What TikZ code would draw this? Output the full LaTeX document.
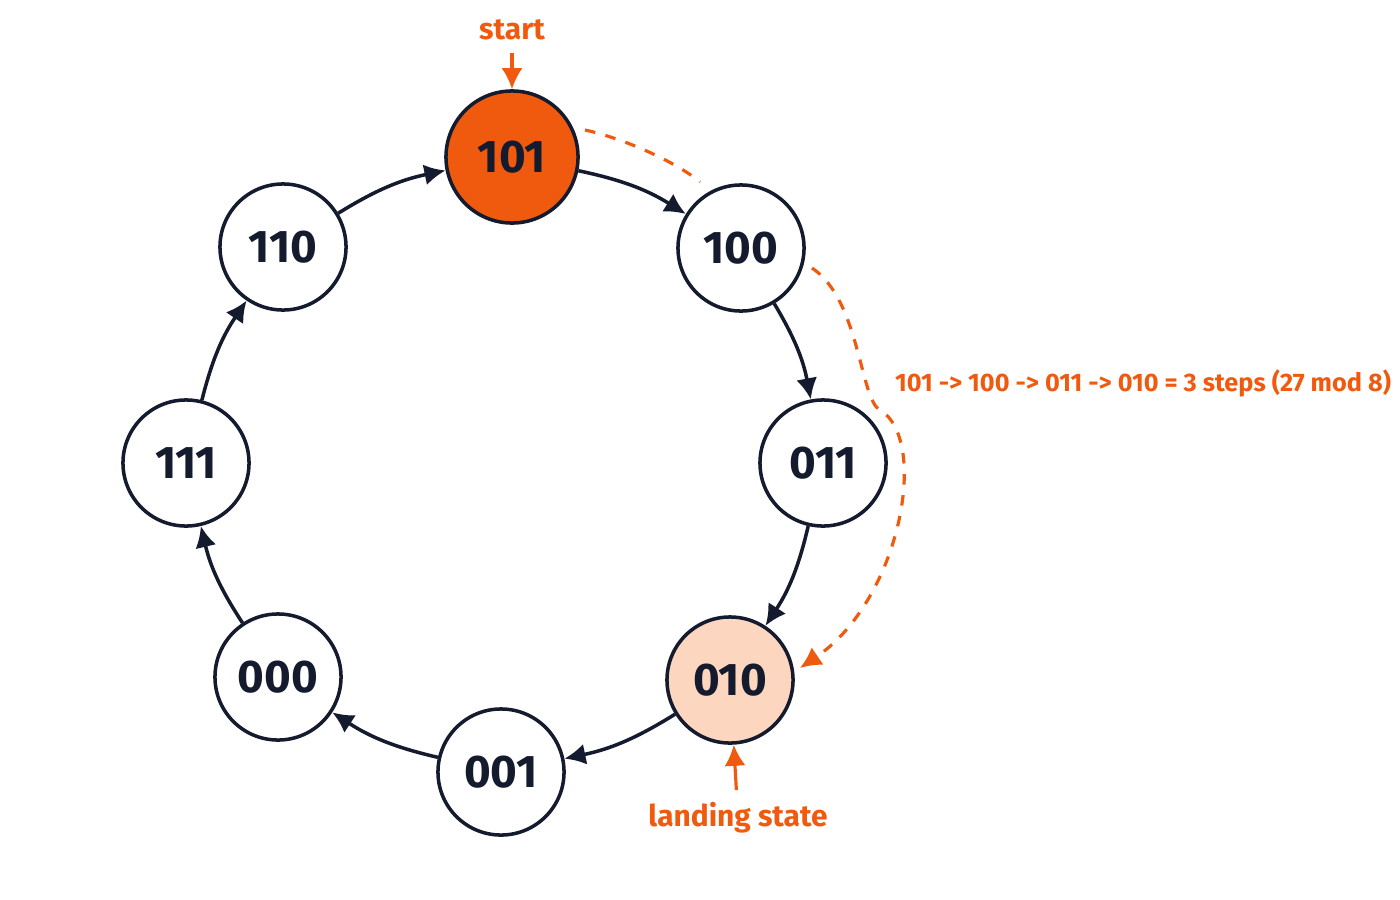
\documentclass[tikz,border=0pt]{standalone}
\usepackage{fontspec}
\setmainfont{Fira Sans}
\usetikzlibrary{arrows.meta}
\definecolor{navy}{HTML}{151B2E}
\definecolor{org}{HTML}{F05A0F}
\definecolor{peach}{HTML}{FCD6BE}
\begin{document}
\begin{tikzpicture}[x=0.01cm,y=-0.01cm,
 st/.style={circle,draw=navy,line width=1pt,minimum size=1.26cm,inner sep=0pt,font=\fontsize{13}{13}\selectfont\bfseries,text=navy,fill=white},
 ar/.style={draw=navy,line width=1pt,-{Latex[length=6pt,width=6pt]}},
 oa/.style={draw=org,line width=0.9pt,-{Latex[length=6pt,width=6pt]}},
 lab/.style={text=org,font=\fontsize{8.5}{9}\selectfont\bfseries}]
\useasboundingbox (0,0) rectangle (1400,900);
\node[st,fill=org,minimum size=1.32cm] (s101) at (512,157) {101};
\node[st] (s100) at (741,248) {100};
\node[st] (s011) at (823,463) {011};
\node[st,fill=peach] (s010) at (730,680) {010};
\node[st] (s001) at (501,772) {001};
\node[st] (s000) at (278,677) {000};
\node[st] (s111) at (186,463) {111};
\node[st] (s110) at (283,247) {110};
\draw[ar] (s101) to[bend left=10] (s100);
\draw[ar] (s100) to[bend left=10] (s011);
\draw[ar] (s011) to[bend left=10] (s010);
\draw[ar] (s010) to[bend left=10] (s001);
\draw[ar] (s001) to[bend left=10] (s000);
\draw[ar] (s000) to[bend left=10] (s111);
\draw[ar] (s111) to[bend left=10] (s110);
\draw[ar] (s110) to[bend left=10] (s101);
\node[lab] (tstart) at (512,30) {start};
\draw[oa] (tstart) -- (s101);
\node[lab] (tland) at (738,818) {landing state};
\draw[oa] (tland) -- (s010);
\node[lab,font=\fontsize{7.2}{8}\selectfont\bfseries] (tsteps) at (1143,383) {101 -> 100 -> 011 -> 010 = 3 steps (27 mod 8)};
\coordinate (d1) at (585,130);
\coordinate (d2) at (700,182);
\coordinate (d3) at (812,268);
\coordinate (d4) at (800,668);
\draw[org,line width=0.9pt,dashed] (d1) .. controls (630,140) and (680,165) .. (d2);
\draw[oa,dashed] (d3) .. controls (860,300) and (860,400) .. (880,410) .. controls (930,440) and (900,600) .. (d4);
\end{tikzpicture}
\end{document}
